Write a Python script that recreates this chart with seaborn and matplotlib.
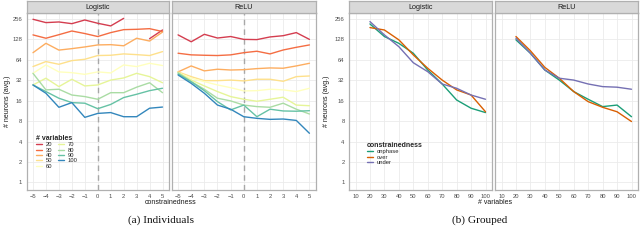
import numpy as np
import pandas as pd
import matplotlib
matplotlib.use("Agg")
import matplotlib.pyplot as plt
import seaborn as sns

# --- datos ---
constrainedness = [-5, -4, -3, -2, -1, 0, 1, 2, 3, 4, 5]
variables = ["20", "30", "40", "50", "60", "70", "80", "90", "100"]

# Individuals / Logistic (one list per # variables)
logistic_ind = [
    [253, 226, 231, 218, 247, 221, 202, 261, np.nan, 131, 176],
    [149, 133, 150, 170, 156, 141, 161, 178, 180, 184, 167],
    [81.5, 112, 89, 93.5, 99, 106, 107, 103, 133, 121, 164],
    [50.9, 60.3, 55, 62.3, 65.2, 74, 74.7, 78.2, 76.3, 74, 84.5],
    [40.5, 53.8, 42.5, 41.4, 39.1, 42.5, 41, 53.8, 50.9, 56.9, 52.7],
    [27.3, 34.3, 25.8, 33.1, 26.4, 27.3, 32.2, 34.6, 40.5, 36.2, 29.4],
    [40.5, 23.1, 23.6, 19.4, 18.4, 16.8, 21, 21, 25.3, 29.4, 21],
    [27.3, 21.8, 17.4, 15.0, 14.7, 12.2, 14.1, 17.8, 19.9, 22.5, 24.4],
    [27.3, 20.6, 12.8, 15.0, 9.1, 10.4, 10.7, 9.3, 9.3, 12.4, 12.9],
]

# Individuals / ReLU
relu_ind = [
    [149, 118, 152, 134, 141, 128, 127, 139, 145, 161, 128],
    [80, 75.7, 74.7, 74, 75.7, 81.5, 85.6, 78.2, 89.3, 97.8, 106],
    [42.5, 52, 44, 46.5, 45.3, 45.8, 47.5, 48.6, 48.1, 52, 56.9],
    [42.5, 36.2, 31.6, 31.6, 32.2, 31.3, 33.1, 33.1, 30.9, 36.2, 37],
    [41.4, 34.3, 30.5, 27.3, 24.9, 22.3, 22.5, 23.6, 23.1, 21.8, 24.4],
    [41.4, 32.2, 26.4, 21.8, 18.4, 16.8, 15.7, 16.8, 18, 13.8, 13.5],
    [41.4, 30.5, 23.6, 17.4, 15.9, 13.8, 13.1, 12.8, 14.7, 12, 10.2],
    [39.6, 30.5, 22.5, 15.5, 11.7, 13.8, 9.3, 12, 11.3, 11.2, 11.4],
    [38.3, 28.8, 20.6, 13.8, 12, 9.3, 8.8, 8.5, 8.6, 8.2, 5.3],
]

n_vars = [20, 30, 40, 50, 60, 70, 80, 90, 100]
groups = ["onphase", "over", "under"]

logistic_onphase = [216, 141, 112, 80, 45.3, 28.2, 16.4, 12.4, 10.7]
logistic_over = [191, 176, 126, 75.7, 48.1, 32.2, 23.1, 19.4, 11]
logistic_under = [234, 149, 100, 58, 42.8, 28.2, 24.4, 19.4, 16.8]

relu_onphase = [126, 80, 45.3, 32.2, 21.8, 16.8, 13.1, 13.8, 9.3]
relu_over = [141, 87, 49.5, 34.3, 21.8, 15.5, 12.8, 11, 7.9]
relu_under = [133, 80, 45.3, 34.3, 32.2, 28.2, 25.8, 25.3, 23.6]

# --- tablas largas ---
def long_individual(rows):
    recs = []
    for v, vals in zip(variables, rows):
        seg = 0
        for c, y in zip(constrainedness, vals):
            if np.isnan(y):
                seg += 1
                continue
            recs.append({"c": c, "y": y, "vars": v, "seg": f"{v}_{seg}"})
    return pd.DataFrame(recs)


def long_grouped(series):
    recs = []
    for g, vals in zip(groups, series):
        for n, y in zip(n_vars, vals):
            recs.append({"n": n, "y": y, "group": g})
    return pd.DataFrame(recs)


df_log = long_individual(logistic_ind)
df_relu = long_individual(relu_ind)
dg_log = long_grouped([logistic_onphase, logistic_over, logistic_under])
dg_relu = long_grouped([relu_onphase, relu_over, relu_under])

# --- estilo ---
sns.set_theme(style="whitegrid")
plt.rcParams["font.family"] = ["Liberation Sans", "DejaVu Sans"]

spectral = sns.color_palette("Spectral", 9)
dark2 = sns.color_palette("Dark2", 3)

W, H = 640, 240
fig = plt.figure(figsize=(W / 100, H / 100), dpi=100)

grid_c = "#EBEBEB"
border_c = "#B0B0B0"
tick_c = "#4D4D4D"


def px_axes(x0, x1, y0, y1):
    return fig.add_axes([x0 / W, 1 - y1 / H, (x1 - x0) / W, (y1 - y0) / H])


def style_panel(ax, title, show_y):
    ax.set_facecolor("white")
    ax.set_yscale("log", base=2)
    ax.set_ylim(0.775, 313)
    ax.set_yticks([1, 2, 4, 8, 16, 32, 64, 128, 256])
    ax.set_yticklabels(["1", "2", "4", "8", "16", "32", "64", "128", "256"])
    ax.minorticks_off()
    ax.grid(True, color=grid_c, lw=0.6)
    ax.set_axisbelow(True)
    for s in ax.spines.values():
        s.set_color(border_c)
        s.set_linewidth(0.9)
    ax.tick_params(axis="both", length=2, width=0.5, color="#999999",
                   labelsize=4.2, labelcolor=tick_c, pad=1.2)
    if not show_y:
        ax.tick_params(axis="y", labelleft=False, length=0)
    ax.set_xlabel("")
    ax.set_ylabel("")
    # strip
    bb = ax.get_position()
    sax = fig.add_axes([bb.x0, bb.y1, bb.width, 12 / H])
    sax.set_facecolor("#D9D9D9")
    sax.set_xticks([])
    sax.set_yticks([])
    for s in sax.spines.values():
        s.set_color(border_c)
        s.set_linewidth(0.9)
    sax.text(0.5, 0.45, title, ha="center", va="center", fontsize=5.2,
             color="#1A1A1A", transform=sax.transAxes)


# --- (a) Individuals ---
ax1 = px_axes(26.5, 169, 13, 190)
ax2 = px_axes(171.5, 316, 13, 190)

for ax, d, name, first in [(ax1, df_log, "Logistic", True), (ax2, df_relu, "ReLU", False)]:
    sns.lineplot(data=d, x="c", y="y", hue="vars", hue_order=variables,
                 palette=spectral, units="seg", estimator=None, lw=1.0,
                 ax=ax, legend=first)
    ax.axvline(0, color="#A8A8A8", lw=1.0, ls=(0, (4, 3)), zorder=1)
    ax.set_xlim(-5.5, 5.5)
    ax.set_xticks(constrainedness)
    style_panel(ax, name, first)

h, l = ax1.get_legend_handles_labels()
ax1.legend(h, l, title="# variables", ncol=2, loc="upper left",
           bbox_to_anchor=(33 / W, 1 - 132 / H), bbox_transform=fig.transFigure,
           frameon=False, fontsize=4.2, title_fontproperties={"weight": "bold", "size": 5},
           handlelength=1.1, handletextpad=0.6, labelspacing=0.05,
           columnspacing=0.9, borderpad=0, alignment="left")
for ln in ax1.get_legend().get_lines():
    ln.set_linewidth(1.0)

fig.text(8 / W, 1 - 101.5 / H, "# neurons (avg.)", rotation=90, ha="center",
         va="center", fontsize=5, color="#1A1A1A")
fig.text(171 / W, 1 - 203 / H, "constrainedness", ha="center", va="center",
         fontsize=5, color="#1A1A1A")
fig.text(161 / W, 1 - 220 / H, "(a) Individuals", ha="center", va="center",
         fontsize=8.1, family=["Liberation Serif", "DejaVu Serif"], color="#111111")

# --- (b) Grouped ---
ax3 = px_axes(349, 492, 13, 190)
ax4 = px_axes(495, 638, 13, 190)

for ax, d, name, first in [(ax3, dg_log, "Logistic", True), (ax4, dg_relu, "ReLU", False)]:
    sns.lineplot(data=d, x="n", y="y", hue="group", hue_order=groups,
                 palette=dark2, lw=1.0, ax=ax, legend=first)
    ax.set_xlim(5.5, 104.5)
    ax.set_xticks([10, 20, 30, 40, 50, 60, 70, 80, 90, 100])
    style_panel(ax, name, first)

h, l = ax3.get_legend_handles_labels()
ax3.legend(h, l, title="constrainedness", ncol=1, loc="upper left",
           bbox_to_anchor=(364 / W, 1 - 139 / H), bbox_transform=fig.transFigure,
           frameon=False, fontsize=4.2, title_fontproperties={"weight": "bold", "size": 5},
           handlelength=1.1, handletextpad=0.6, labelspacing=0.05,
           borderpad=0, alignment="left")
for ln in ax3.get_legend().get_lines():
    ln.set_linewidth(1.0)

fig.text(327 / W, 1 - 101.5 / H, "# neurons (avg.)", rotation=90, ha="center",
         va="center", fontsize=5, color="#1A1A1A")
fig.text(495 / W, 1 - 203 / H, "# variables", ha="center", va="center",
         fontsize=5, color="#1A1A1A")
fig.text(480 / W, 1 - 220 / H, "(b) Grouped", ha="center", va="center",
         fontsize=8.1, family=["Liberation Serif", "DejaVu Serif"], color="#111111")

fig.savefig("out.png", dpi=100)
print("listo: out.png")
